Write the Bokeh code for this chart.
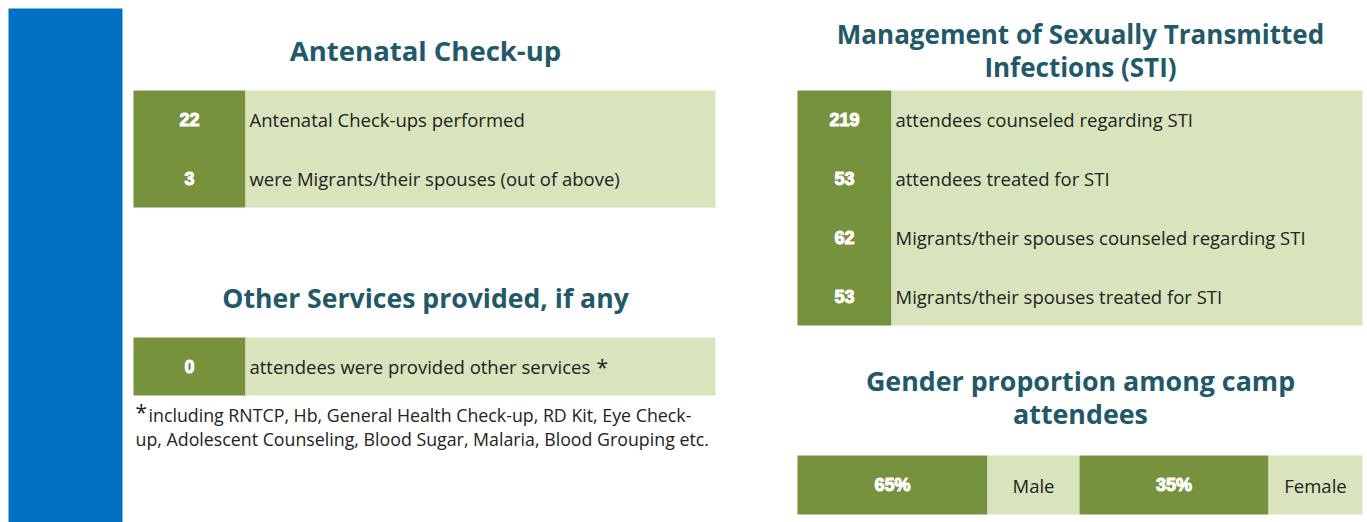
from bokeh.plotting import figure
from bokeh.models import Range1d, ColumnDataSource
from bokeh.core.properties import value
from bokeh.embed import file_html
from bokeh.resources import INLINE

# ---------------- data ----------------
antenatal_values = ["22", "3"]
antenatal_labels = ["Antenatal Check-ups performed",
                    "were Migrants/their spouses (out of above)"]
other_values = ["0"]
other_labels = ["attendees were provided other services"]
footnote_mark = "*"
footnote_lines = ["including RNTCP, Hb, General Health Check-up, RD Kit, Eye Check-",
                  "up, Adolescent Counseling, Blood Sugar, Malaria, Blood Grouping etc."]
sti_values = ["219", "53", "62", "53"]
sti_labels = ["attendees counseled regarding STI",
              "attendees treated for STI",
              "Migrants/their spouses counseled regarding STI",
              "Migrants/their spouses treated for STI"]
gender_shares = ["65%", "35%"]
gender_labels = ["Male", "Female"]

titles = {
    "antenatal": ["Antenatal Check-up"],
    "other": ["Other Services provided, if any"],
    "sti": ["Management of Sexually Transmitted", "Infections (STI)"],
    "gender": ["Gender proportion among camp", "attendees"],
}

# ---------------- style ----------------
DARK = "#76923C"
LIGHT = "#D7E4BC"
BLUE = "#0070C0"
TITLE_C = "#215968"
TITLE_FONT = "Open Sans"
BODY_FONT = "Open Sans"
NUM_FONT = "Liberation Sans"
TEXT_C = "#222222"

W, H = 1367, 522
p = figure(width=W, height=H, output_backend="svg", toolbar_location=None,
           x_range=Range1d(0, W), y_range=Range1d(H, 0),
           min_border=0)
p.axis.visible = False
p.grid.visible = False
p.outline_line_color = None
p.background_fill_color = "white"
p.border_fill_color = "white"

# left blue band
p.quad(left=[8], right=[122], top=[8], bottom=[522], fill_color=BLUE, line_color=None)


def title(lines, cx, y0, dy, size="26.5px"):
    p.text(x=[cx] * len(lines), y=[y0 + i * dy for i in range(len(lines))], text=lines,
           text_font=value(TITLE_FONT), text_font_style="bold", text_font_size=size,
           text_color=TITLE_C, text_align="center", text_baseline="middle")


def num_text(xs, ys, texts, **kw):
    p.text(x=xs, y=ys, text=texts, text_font=value(NUM_FONT), text_font_style="bold",
           text_font_size="18px", text_color="white", text_align="center",
           text_baseline="middle", text_outline_color="white", **kw)


def table(values, labels, left, split, right, top, row_h):
    n = len(values)
    bottom = top + n * row_h
    p.quad(left=[left], right=[split], top=[top], bottom=[bottom], fill_color=DARK, line_color=None)
    p.quad(left=[split], right=[right], top=[top], bottom=[bottom], fill_color=LIGHT, line_color=None)
    ys = [top + (i + 0.5) * row_h for i in range(n)]
    src = ColumnDataSource(dict(x=[(left + split) / 2] * n, y=ys, t=values,
                                lx=[split + 4] * n, lt=labels))
    num_text("x", "y", "t", source=src)
    p.text(x="lx", y="y", text="lt", source=src, text_font=value(BODY_FONT),
           text_font_size="18.5px", text_color=TEXT_C, text_align="left", text_baseline="middle")


# Antenatal
title(titles["antenatal"], 425, 50, 33, "27.5px")
table(antenatal_values, antenatal_labels, 133, 245, 715, 90, 58.5)

# Other services
title(titles["other"], 425, 297, 33, "26.6px")
table(other_values, other_labels, 133, 245, 715, 337, 58)
p.text(x=[596, 135], y=[366, 411], text=[footnote_mark, footnote_mark], text_font=value(BODY_FONT),
       text_font_size="21px", text_color=TEXT_C, text_align="left", text_baseline="middle")
p.text(x=[148, 135], y=[414, 438], text=footnote_lines, text_font=value(BODY_FONT),
       text_font_size="17.8px", text_color=TEXT_C, text_align="left", text_baseline="middle")

# STI
title(titles["sti"], 1080, 33, 33, "26px")
table(sti_values, sti_labels, 797, 891, 1362, 90, 58.75)

# Gender
title(titles["gender"], 1080, 380, 33, "26.8px")
seg_edges = [797, 987, 1079, 1268, 1362]
g_top, g_bot = 455, 514
for i in range(len(gender_shares)):
    l, m, r = seg_edges[2 * i], seg_edges[2 * i + 1], seg_edges[2 * i + 2]
    p.quad(left=[l], right=[m], top=[g_top], bottom=[g_bot], fill_color=DARK, line_color=None)
    p.quad(left=[m], right=[r], top=[g_top], bottom=[g_bot], fill_color=LIGHT, line_color=None)
    yc = (g_top + g_bot) / 2
    num_text([(l + m) / 2], [yc], [gender_shares[i]])
    p.text(x=[(m + r) / 2], y=[yc], text=[gender_labels[i]], text_font=value(BODY_FONT),
           text_font_size="18.5px", text_color=TEXT_C, text_align="center", text_baseline="middle")

open("out.html", "w").write(file_html(p, INLINE))
